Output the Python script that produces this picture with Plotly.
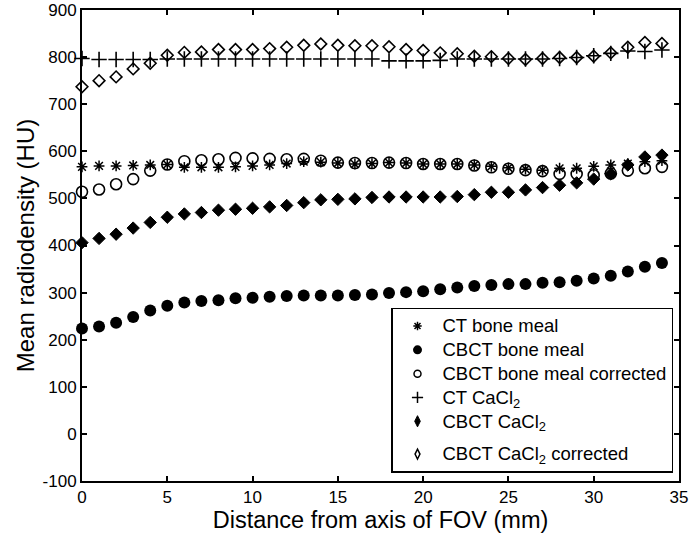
import plotly.graph_objects as go

distance = list(range(35))

ct_bone_meal = [567, 569, 569, 570, 571, 572, 566, 566, 566, 567, 569, 571, 574, 578, 577, 575, 573, 574,
                576, 575, 573, 573, 573, 571, 568, 565, 562, 560, 564, 564, 568, 571, 574, 578, 580]
cbct_bone_meal = [224, 228, 236, 248, 262, 272, 279, 282, 284, 288, 289, 291, 293, 294, 294, 294, 295, 296,
                  299, 301, 303, 307, 311, 314, 316, 318, 318, 321, 322, 325, 330, 336, 345, 355, 363]
cbct_bone_meal_corr = [514, 519, 530, 541, 559, 572, 579, 581, 583, 586, 585, 584, 583, 584, 580, 576, 575, 575,
                       576, 575, 573, 573, 573, 570, 566, 563, 560, 558, 552, 552, 549, 553, 559, 564, 567]
ct_cacl2 = [797, 795, 795, 795, 795, 796, 796, 796, 796, 796, 796, 796, 796, 796, 796, 796, 796, 796,
            792, 792, 792, 793, 796, 796, 796, 796, 796, 796, 797, 799, 803, 808, 813, 812, 815]
cbct_cacl2 = [406, 415, 424, 437, 449, 460, 467, 470, 475, 477, 479, 482, 485, 491, 497, 498, 499, 502,
              503, 503, 503, 503, 504, 508, 513, 513, 518, 523, 528, 533, 541, 552, 571, 588, 592]
cbct_cacl2_corr = [737, 750, 758, 775, 787, 804, 810, 811, 816, 816, 816, 818, 821, 825, 828, 825, 824, 824,
                   822, 816, 814, 809, 807, 802, 801, 797, 795, 797, 799, 799, 802, 809, 821, 831, 829]

series_names = ["CT bone meal", "CBCT bone meal", "CBCT bone meal corrected",
                "CT CaCl<sub>2</sub>", "CBCT CaCl<sub>2</sub>", "CBCT CaCl<sub>2</sub> corrected"]

x_ticks = [0, 5, 10, 15, 20, 25, 30, 35]
y_ticks = [-100, 0, 100, 200, 300, 400, 500, 600, 700, 800, 900]

FONT = "Liberation Sans, Arial, sans-serif"

# marker styles: (plot marker, legend marker)
styles = [
    (dict(symbol="asterisk-open", size=9, line=dict(color="black", width=1.5)),
     dict(symbol="asterisk-open", size=7, line=dict(color="black", width=1.5))),
    (dict(symbol="circle", size=12, line=dict(color="black", width=0)),
     dict(symbol="circle", size=9, line=dict(color="black", width=0))),
    (dict(symbol="circle-open", size=11, line=dict(color="black", width=1.6)),
     dict(symbol="circle-open", size=7, line=dict(color="black", width=1.5))),
    (dict(symbol="cross-thin-open", size=11, line=dict(color="black", width=1.6)),
     dict(symbol="cross-thin-open", size=8, line=dict(color="black", width=1.5))),
    (dict(symbol="diamond", size=9.5, line=dict(color="black", width=1)),
     dict(symbol="diamond-tall", size=8, line=dict(color="black", width=1))),
    (dict(symbol="diamond-open", size=9, line=dict(color="black", width=1.6)),
     dict(symbol="diamond-tall-open", size=7, line=dict(color="black", width=1.5))),
]
values = [ct_bone_meal, cbct_bone_meal, cbct_bone_meal_corr, ct_cacl2, cbct_cacl2, cbct_cacl2_corr]

fig = go.Figure()

for name, vals, (pm, lm) in zip(series_names, values, styles):
    fig.add_trace(go.Scatter(x=distance, y=vals, mode="markers", name=name,
                             marker=dict(color="black", **pm), showlegend=False, cliponaxis=False))

# legend entries (smaller symbols, as in the original legend)
for k, (name, (pm, lm)) in enumerate(zip(series_names, styles)):
    fig.add_trace(go.Scatter(x=[None], y=[None], mode="markers",
                             name="<span style='font-size:18.5px'>" + name + "</span>",
                             marker=dict(color="black", **lm), showlegend=True,
                             legendgroup="b" if k == 5 else "a"))

axis_common = dict(
    showline=True, linecolor="black", linewidth=2, mirror="ticks",
    ticks="inside", ticklen=5, tickwidth=2, tickcolor="black",
    showgrid=False, zeroline=False, automargin=False, ticklabeloverflow="allow",
    tickfont=dict(family=FONT, size=17, color="black"),
)

fig.update_xaxes(range=[0, 35], tickvals=x_ticks, ticktext=[str(v) for v in x_ticks],
                 title=dict(text="Distance from axis of FOV (mm)", font=dict(family=FONT, size=23.5, color="black"),
                            standoff=3),
                 **axis_common)
fig.update_yaxes(range=[-100, 900], tickvals=y_ticks, ticktext=[str(v) for v in y_ticks],
                 title=dict(text="Mean radiodensity (HU)", font=dict(family=FONT, size=24, color="black"),
                            standoff=1),
                 **axis_common)

fig.update_layout(
    width=689, height=536,
    margin=dict(l=82, r=10, t=10, b=55),
    plot_bgcolor="white", paper_bgcolor="white",
    font=dict(family=FONT, color="black"),
    legend=dict(x=0.5176, y=0.368, xanchor="left", yanchor="top",
                bordercolor="black", borderwidth=1.5, bgcolor="white",
                font=dict(family=FONT, size=16, color="black"),
                tracegroupgap=9, itemwidth=40),
)

# remove the default page margin so the figure fills the window exactly
fig.write_html("out.html", config={"displayModeBar": False},
               post_script="document.body.style.margin='0';document.body.style.padding='0';")
